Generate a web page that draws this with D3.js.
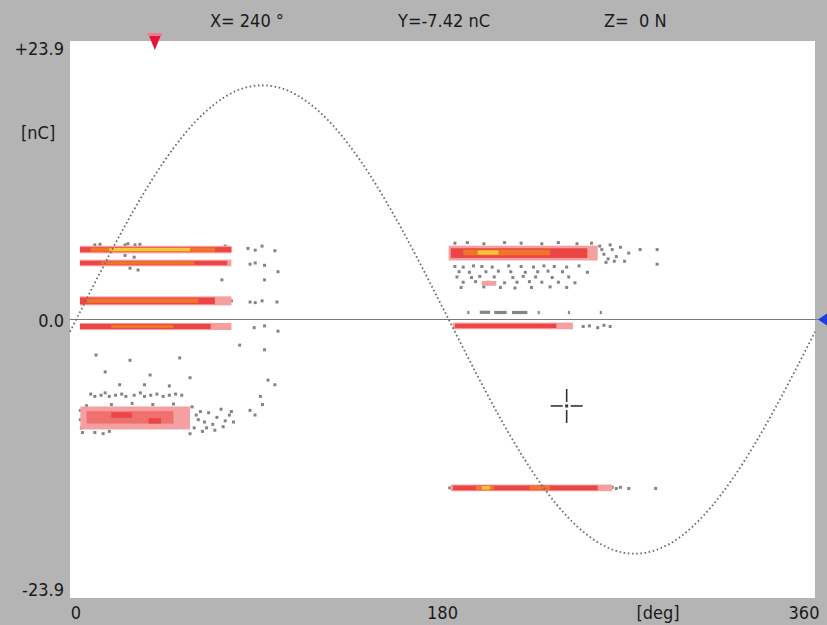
<!DOCTYPE html>
<html>
<head>
<meta charset="utf-8">
<script src="https://cdn.jsdelivr.net/npm/d3@7"></script>
<style>
  html, body { margin: 0; padding: 0; background: #b4b4b4; }
  svg text { font-family: "Liberation Sans Narrow", "DejaVu Sans Condensed", "Arial Narrow", sans-serif; fill: #1a1a1a; white-space: pre; }
</style>
</head>
<body>
<div id="content"></div>
<script>
// phase axis / charge axis
const phaseTicks = [0, 180, 360];
const chargeTicks = [23.9, 0, -23.9];
const chargeLabels = ["+23.9", "0.0", "-23.9"];

// readout at the top
const readout = ["X= 240 \u00b0", "Y=-7.42 nC", "Z=  0 N"];
const cursorPhase = 240, cursorCharge = -7.42;
const markerPhase = 41;

// reference voltage wave, read every 10 deg [nC scale]
const refPhase = [0, 10, 20, 30, 40, 50, 60, 70, 80, 90, 100, 110, 120, 130, 140, 150, 160, 170, 180,
    190, 200, 210, 220, 230, 240, 250, 260, 270, 280, 290, 300, 310, 320, 330, 340, 350, 360];
const refCharge = [-1.05, 2.45, 5.88, 9.13, 12.1, 14.7, 16.86, 18.5, 19.59, 20.07, 19.95, 19.22, 17.91, 16.05, 13.71, 10.95, 7.85, 4.52, 1.05,
    -2.45, -5.88, -9.13, -12.1, -14.7, -16.86, -18.5, -19.59, -20.07, -19.95, -19.22, -17.91, -16.05, -13.71, -10.95, -7.85, -4.52, -1.05];

// dense pulse bands: [phase from, phase to, charge, spread, count level]
const leftBands = [
    [4.8, 78, 6.0, 0.24, 2], [4.8, 78, 6.0, 0.13, 3], [10, 70, 6.0, 0.09, 4], [19, 58, 6.0, 0.06, 5],
    [4.8, 78, 4.85, 0.2, 2], [4.8, 76, 4.85, 0.1, 3], [15, 60, 4.85, 0.05, 4],
    [4.8, 78, 1.6, 0.3, 2], [4.8, 70, 1.6, 0.2, 3], [8, 62, 1.6, 0.1, 4],
    [4.8, 78, -0.6, 0.22, 2], [4.8, 68, -0.6, 0.13, 3], [20, 50, -0.6, 0.05, 4],
    [5, 58, -8.45, 0.9, 2], [8, 50, -8.4, 0.45, 6], [20, 30, -8.2, 0.15, 3], [38, 44, -8.7, 0.15, 3]
];
const rightBands = [
    [183, 255, 5.7, 0.55, 2], [184, 250, 5.7, 0.33, 3], [190, 232, 5.75, 0.15, 4], [197, 207, 5.75, 0.1, 5],
    [199, 206, 3.1, 0.12, 2],
    [192, 193, 0.6, 0.05, 1], [198, 203, 0.62, 0.05, 1], [205, 211, 0.6, 0.05, 1], [213.6, 221, 0.6, 0.05, 1],
    [226, 227, 0.6, 0.05, 1], [240.6, 241.6, 0.6, 0.05, 1], [256, 257, 0.6, 0.05, 1],
    [185, 243, -0.55, 0.2, 2], [186, 235, -0.55, 0.1, 3],
    [184, 262, -14.45, 0.2, 2], [185, 255, -14.45, 0.12, 3], [196, 205, -14.45, 0.08, 4], [199, 203, -14.45, 0.06, 5],
    [222, 232, -14.45, 0.07, 4]
];

// single pulses: [phase, charge]
const leftSparse = [
    [12, 6.4], [14.5, 6.45], [26.6, 6.4], [28, 6.5], [31.4, 6.4], [33.8, 6.45], [75, 6.3],
    [86, 6.1], [92.8, 6.3], [89.5, 5.95], [99, 5.9], [26.6, 5.5], [31, 5.35],
    [29, 4.4], [32.9, 4.25], [73.4, 3.4], [87, 4.75], [89.5, 4.85], [94, 4.65], [100.5, 4.1], [94, 3.4],
    [78, 1.6], [87, 1.5], [89.5, 1.45], [92.8, 1.6], [100, 1.5],
    [64, -0.65], [68, -0.6], [70, -0.7], [72, -0.6], [75, -0.65], [77, -0.6], [89, -0.7], [94, -0.55], [100.5, -1.0],
    [12.6, -3.05], [29, -3.5], [53, -3.3], [17, -4.5], [38.7, -4.76], [58, -5.0], [36, -5.6], [24, -5.6], [48, -5.7],
    [95.7, -5.2], [82, -2.2], [94, -2.6]
];
const leftLowSparse = [
    [10, -6.4], [12, -6.6], [15, -6.5], [17, -6.3], [19, -6.6], [22, -6.5], [25, -6.4], [27, -6.6], [31, -6.5],
    [34, -6.3], [36, -6.6], [39, -6.5], [42, -6.4], [45, -6.6], [48, -6.5], [51, -6.4], [54, -6.5],
    [20, -7.3], [30, -7.2], [40, -7.3], [50, -7.25], [8, -7.4],
    [5, -7.8], [5, -8.6], [5.5, -9.3], [6, -9.7], [12, -9.7], [16, -9.8], [19, -9.6],
    [59, -7.5], [61, -8.2], [63, -7.9], [65, -8.8], [67, -8.0], [69, -9.0], [71, -8.4], [73, -7.7], [75, -8.7],
    [77, -8.2], [60, -9.3], [64, -9.6], [70, -9.5], [58, -9.8], [62, -8.6], [66, -9.3], [74, -9.2], [78, -7.9], [79, -8.8],
    [87, -7.8], [89.4, -8.2], [93, -7.3], [99, -5.6], [92, -6.6]
];
const rightSparse = [
    [186, 6.55], [192, 6.6], [200, 6.5], [210, 6.6], [218, 6.55], [228, 6.5], [236, 6.6], [245, 6.5], [252, 6.55],
    [256, 6.3], [258, 5.6], [260, 5.2], [262, 6.0], [264, 5.4], [266, 6.2], [268, 5.0], [270, 5.7], [259, 4.9],
    [257, 6.0], [261, 6.4], [263, 5.0], [275.5, 6.0], [283.7, 6.0], [283.7, 4.75],
    [186, 4.55], [190, 4.5], [195, 4.6], [199, 4.55], [204, 4.5], [212, 4.6], [218, 4.55], [224, 4.5], [229, 4.6], [234, 4.55], [240, 4.5], [246, 4.6],
    [188, 4.1], [193, 4.05], [201, 4.1], [207, 4.15], [213, 4.1], [220, 4.05], [226, 4.1], [231, 4.15], [238, 4.1], [250, 4.05],
    [187, 3.65], [194, 3.6], [198, 3.7], [205, 3.65], [214, 3.6], [219, 3.7], [225, 3.65], [233, 3.6], [241, 3.65],
    [190, 3.2], [196, 3.25], [202, 3.2], [210, 3.15], [216, 3.2], [222, 3.25], [228, 3.2], [236, 3.2], [244, 3.15],
    [189, 2.75], [200, 2.8], [208, 2.75], [215, 2.7], [223, 2.75], [232, 2.8], [240, 2.75]
];
const rightLowSparse = [
    [248, -0.6], [251, -0.55], [255, -0.7], [258, -0.5], [261, -0.6],
    [262, -14.4], [264, -14.5], [266, -14.4], [270, -14.5], [283, -14.5], [183.5, -14.45]
];

const width = 827, height = 625;

let svg = d3.select("#content")
    .append("svg")
    .attr("width", width)
    .attr("height", height);

let x = d3.scaleLinear().domain([0, 360]).range([70, 815]);
let y = d3.scaleLinear().domain([23.9, -23.9]).range([41, 598]);

// count level -> colour
let levelColor = d3.scaleOrdinal()
    .domain([1, 2, 3, 4, 5, 6])
    .range(["#848484", "#f4a0a0", "#ec4545", "#f07528", "#f6c63a", "#f07070"]);

// white plot area
svg.append("rect")
    .attr("x", x(0)).attr("y", y(23.9))
    .attr("width", x(360) - x(0)).attr("height", y(-23.9) - y(23.9))
    .attr("fill", "#fff");

// readout
let readX = [210, 398, 604];
svg.selectAll(".readout")
    .data(readout)
    .enter()
    .append("text")
    .attr("x", (d, i) => readX[i])
    .attr("y", 27)
    .style("font-size", "18px")
    .text(d => d);

// charge labels
svg.selectAll(".qlab")
    .data(chargeTicks)
    .enter()
    .append("text")
    .attr("x", 64)
    .attr("y", d => y(d) + (d > 0 ? 14 : d < 0 ? -2 : 7))
    .attr("text-anchor", "end")
    .style("font-size", "18px")
    .text((d, i) => chargeLabels[i]);

svg.append("text")
    .attr("x", 21).attr("y", 139)
    .style("font-size", "18px")
    .text("[nC]");

// phase labels
svg.selectAll(".plab")
    .data(phaseTicks)
    .enter()
    .append("text")
    .attr("x", d => x(d) + (d === 0 ? 6 : d === 360 ? -11 : 0))
    .attr("y", 619)
    .attr("text-anchor", "middle")
    .style("font-size", "18px")
    .text(d => d);

svg.append("text")
    .attr("x", 658).attr("y", 619)
    .attr("text-anchor", "middle")
    .style("font-size", "18px")
    .text("[deg]");

// zero line
svg.append("line")
    .attr("x1", x(0)).attr("x2", x(360) + 3)
    .attr("y1", y(0)).attr("y2", y(0))
    .attr("stroke", "#7a7a7a")
    .attr("stroke-width", 1.2);

let plot = svg.append("g");

// bands
function drawBands(data) {
    plot.append("g")
        .selectAll("rect")
        .data(data)
        .enter()
        .append("rect")
        .attr("x", d => x(d[0]))
        .attr("width", d => x(d[1]) - x(d[0]))
        .attr("y", d => y(d[2] + d[3]) - 1)
        .attr("height", d => y(d[2] - d[3]) - y(d[2] + d[3]) + 2)
        .attr("fill", d => levelColor(d[4]));
}

function drawSparse(data) {
    plot.append("g")
        .selectAll("rect")
        .data(data)
        .enter()
        .append("rect")
        .attr("x", d => x(d[0]) - 1.5)
        .attr("y", d => y(d[1]) - 1.5)
        .attr("width", 3)
        .attr("height", 3)
        .attr("fill", levelColor(1));
}

drawSparse(leftSparse);
drawSparse(leftLowSparse);
drawSparse(rightSparse);
drawSparse(rightLowSparse);
drawBands(leftBands);
drawBands(rightBands);

// reference wave as dots
let wave = d3.line()
    .x((d, i) => x(refPhase[i]))
    .y(d => y(d))
    .curve(d3.curveNatural);

svg.append("path")
    .attr("d", wave(refCharge))
    .attr("fill", "none")
    .attr("stroke", "#6a6a6a")
    .attr("stroke-width", 1.8)
    .attr("stroke-dasharray", "1.6,2.6");

// cursor cross
let cx = x(cursorPhase), cy = y(cursorCharge);
let cross = svg.append("g").attr("stroke", "#333").attr("stroke-width", 1.6);
cross.append("line").attr("x1", cx - 16).attr("x2", cx - 4).attr("y1", cy).attr("y2", cy);
cross.append("line").attr("x1", cx + 4).attr("x2", cx + 16).attr("y1", cy).attr("y2", cy);
cross.append("line").attr("x1", cx).attr("x2", cx).attr("y1", cy - 17).attr("y2", cy - 4);
cross.append("line").attr("x1", cx).attr("x2", cx).attr("y1", cy + 4).attr("y2", cy + 17);
svg.append("rect").attr("x", cx - 1.5).attr("y", cy - 1.5).attr("width", 3).attr("height", 3).attr("fill", "#333");

// phase marker (top) and level marker (right)
let mx = x(markerPhase);
svg.append("path")
    .attr("d", `M${mx - 7},33 L${mx + 7},33 L${mx},50 Z`)
    .attr("fill", "#e5143c");
svg.append("rect")
    .attr("x", mx - 7).attr("y", 33).attr("width", 14).attr("height", 3)
    .attr("fill", "#f07a90");

let zy = y(0);
svg.append("path")
    .attr("d", `M${width},${zy - 6} L${width},${zy + 6} L${x(360) + 3},${zy} Z`)
    .attr("fill", "#1a3ce0");
</script>
</body>
</html>
